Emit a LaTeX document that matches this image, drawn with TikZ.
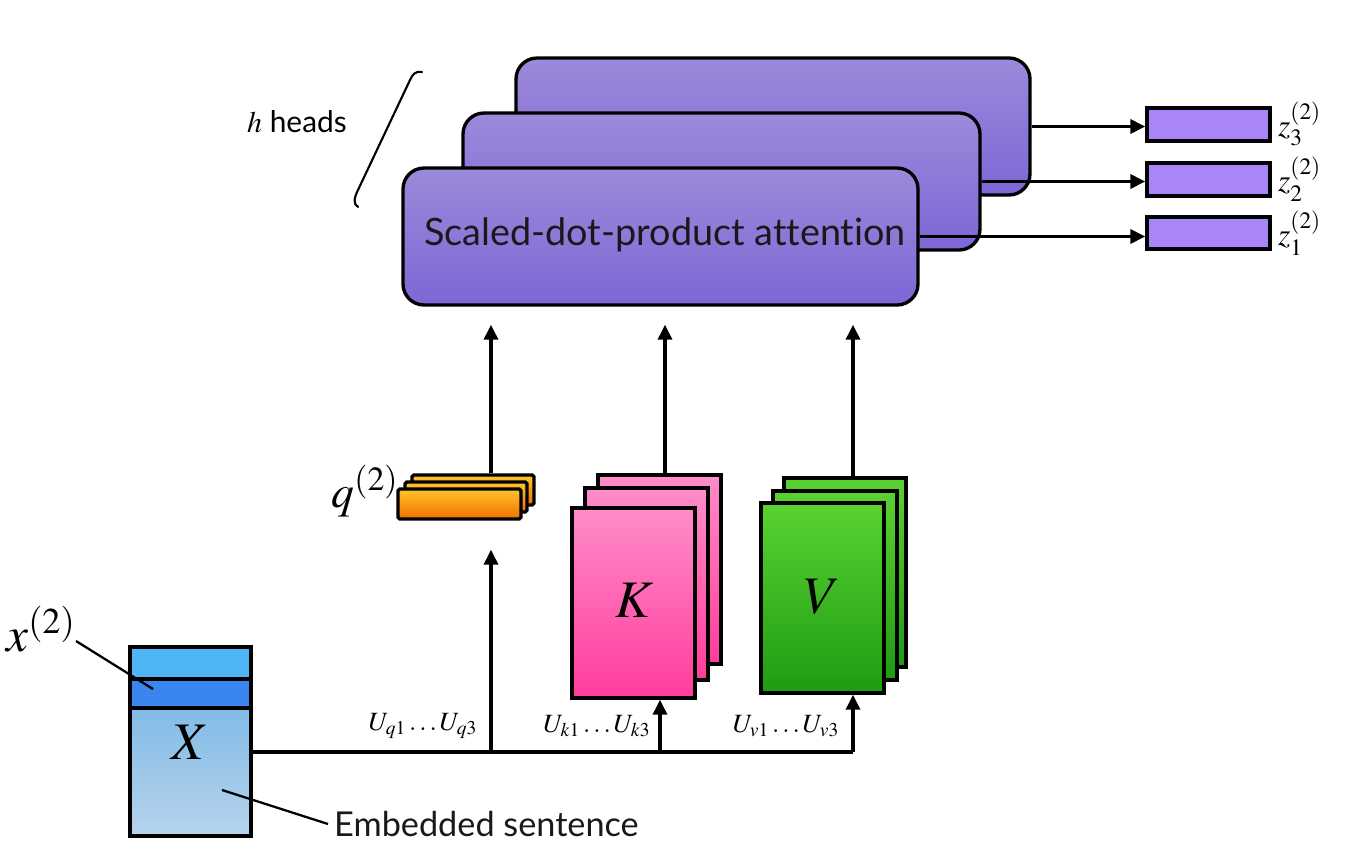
\documentclass[tikz,border=0pt]{standalone}
\usepackage{mathptmx}
\usepackage{fontspec}
\setmainfont[Ligatures=NoCommon]{Lato}
\usetikzlibrary{arrows.meta,fit}
\definecolor{headtop}{HTML}{9C8ADA}
\definecolor{headbot}{HTML}{7E66D6}
\definecolor{zfill}{HTML}{A985F7}
\definecolor{ktop}{HTML}{FF8CC8}
\definecolor{kbot}{HTML}{FF3C9C}
\definecolor{vtop}{HTML}{5AD232}
\definecolor{vbot}{HTML}{1E9C12}
\definecolor{qtop}{HTML}{FFC42C}
\definecolor{qbot}{HTML}{F07000}
\definecolor{xband}{HTML}{4FB6F6}
\definecolor{xrow}{HTML}{3A86EE}
\definecolor{xtop}{HTML}{6AB0E4}
\definecolor{xbot}{HTML}{B6D3EC}
\begin{document}
\begin{tikzpicture}[x=0.02cm,y=-0.02cm,
  lw/.style={line width=1.9pt},
  arr/.style={lw,-{Triangle[length=0.3cm,width=0.28cm]}},
  head/.style={draw,lw,rounded corners=0.42cm,top color=headtop,bottom color=headbot,inner sep=0pt},
  zbox/.style={draw,lw,fill=zfill,inner sep=0pt},
  kbox/.style={draw,lw,top color=ktop,bottom color=kbot,inner sep=0pt},
  vbox/.style={draw,lw,top color=vtop,bottom color=vbot,inner sep=0pt},
  qbox/.style={draw,lw,top color=qtop,bottom color=qbot,inner sep=0pt,rounded corners=1pt},
  bigmath/.style={font=\fontsize{30}{32}\selectfont},
  ulab/.style={font=\fontsize{15}{17}\selectfont,inner sep=1pt},
  zlab/.style={font=\fontsize{18}{20}\selectfont,anchor=west,inner sep=1pt},
  sans/.style={font=\fontsize{21.5}{24}\selectfont}
]
\useasboundingbox (0,0) rectangle (1349,866);

% heads
\node[head,fit={(516,58) (1030,195)}] (h3) {};
\node[head,fit={(463,113) (980,250)}] (h2) {};
\node[head,fit={(403,168) (918,305)}] (h1) {};
\node[sans,text=black!90] (title) at (665,235) {Scaled-dot-product attention};

% outputs
\node[zbox,fit={(1147,108) (1270,141)}] (z3) {};
\node[zbox,fit={(1147,163) (1270,196)}] (z2) {};
\node[zbox,fit={(1147,217) (1270,249)}] (z1) {};
\node[zlab] (z3l) at (1276,124) {$z_3^{(2)}$};
\node[zlab] (z2l) at (1276,179) {$z_2^{(2)}$};
\node[zlab] (z1l) at (1276,233) {$z_1^{(2)}$};
\draw[arr] (h3.east) -- (h3.east -| z3.west);
\draw[arr] (h2.east) -- (h2.east -| z2.west);
\draw[arr] (h1.east) -- (h1.east -| z1.west);

% h heads
\node[font=\fontsize{17}{19}\selectfont] (hh) at (297,122) {$h$ heads};
\draw[line width=1.2pt,line cap=round] (422,72) .. controls (415,71) and (413,74) .. (410,80) -- (358,190) .. controls (354,198) and (353,204) .. (358,207);

% q stack
\node[qbox,fit={(412,475) (534,505)}] (q3) {};
\node[qbox,fit={(405,482) (527,512)}] (q2) {};
\node[qbox,fit={(398,489) (521,519)}] (q1) {};
\node[font=\fontsize{26}{28}\selectfont] (ql) at (365,491) {$q^{(2)}$};

% K stack
\node[kbox,fit={(598,475) (721,664)}] (k3) {};
\node[kbox,fit={(585,488) (708,680)}] (k2) {};
\node[kbox,fit={(572,508) (695,698)}] (k1) {};
\node[bigmath] (kl) at (635,600) {$K$};

% V stack
\node[vbox,fit={(784,478) (906,667)}] (v3) {};
\node[vbox,fit={(773,491) (897,680)}] (v2) {};
\node[vbox,fit={(761,503) (884,693)}] (v1) {};
\node[bigmath] (vl) at (822,597) {$V$};

% arrows into heads
\coordinate (qx) at (491,0);
\coordinate (kx) at (665,0);
\coordinate (vx) at (853,0);
\draw[arr,shorten >=0.36cm] (q3.north -| qx) -- (h1.south -| qx);
\draw[arr,shorten >=0.36cm] (k3.north -| kx) -- (h1.south -| kx);
\draw[arr,shorten >=0.36cm] (v3.north -| vx) -- (h1.south -| vx);

% X matrix
\node[draw,lw,top color=xtop,bottom color=xbot,inner sep=0pt,fit={(130,647) (251,836)}] (X) {};
\node[draw,lw,fill=xband,inner sep=0pt,fit={(130,647) (251,679)}] (xb) {};
\node[draw,lw,fill=xrow,inner sep=0pt,fit={(130,679) (251,708)}] (xr) {};
\node[bigmath] (xl) at (190,742) {$X$};
\node[font=\fontsize{28}{30}\selectfont] (x2) at (41,629) {$x^{(2)}$};
\coordinate (x2p) at (153,689);
\draw[line width=1.3pt] (76,641) -- (x2p);
\node[font=\fontsize{19.5}{22}\selectfont,anchor=west,text=black!90] (emb) at (328,824) {Embedded sentence};
\coordinate (embp) at (222,790);
\draw[line width=1.3pt] (embp) -- (emb.west);

% bus
\coordinate (bus) at (853,752);
\draw[lw] (X.east |- bus) -- (bus);
\draw[arr,shorten >=0.58cm] (bus -| qx) -- (q1.south -| qx);
\draw[arr] (bus -| 660,0) -- (k1.south -| 660,0);
\draw[arr] (bus) -- (v1.south -| vx);

\node[ulab] (uq) at (423,726) {$U_{q1}\ldots U_{q3}$};
\node[ulab] (uk) at (597,726) {$U_{k1}\ldots U_{k3}$};
\node[ulab] (uv) at (786,726) {$U_{v1}\ldots U_{v3}$};
\end{tikzpicture}
\end{document}
